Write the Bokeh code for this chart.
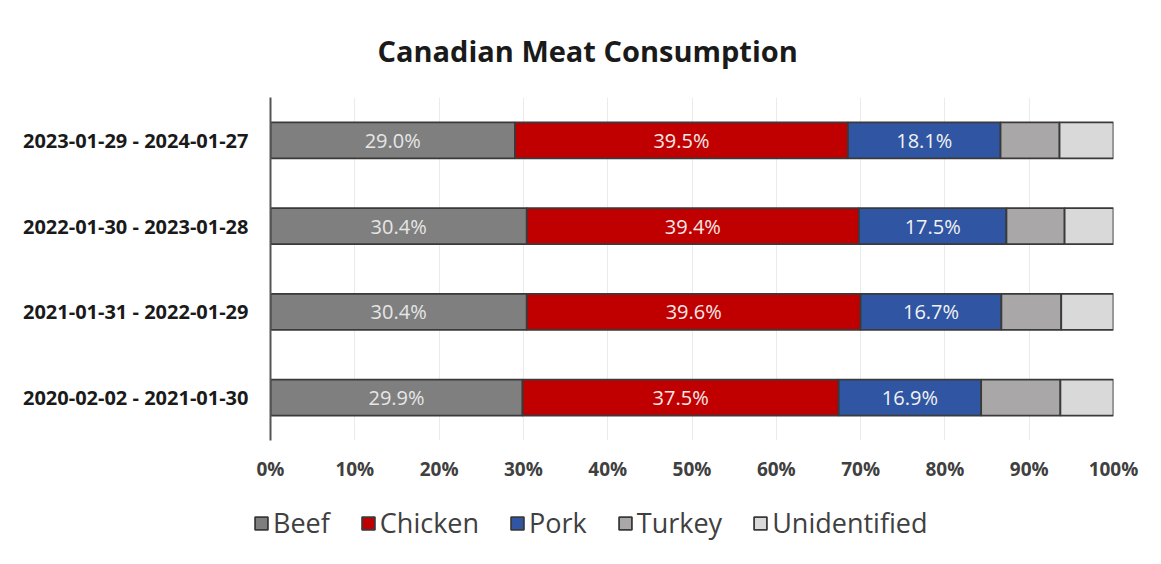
from bokeh.plotting import figure
from bokeh.layouts import column, row
from bokeh.models import ColumnDataSource, FactorRange, Range1d, Legend, LegendItem, NumeralTickFormatter, FixedTicker
from bokeh.core.properties import value
from bokeh.embed import file_html
from bokeh.resources import INLINE

periods = ["2020-02-02 - 2021-01-30", "2021-01-31 - 2022-01-29",
           "2022-01-30 - 2023-01-28", "2023-01-29 - 2024-01-27"]
meats = ["Beef", "Chicken", "Pork", "Turkey", "Unidentified"]
beef = [29.9, 30.4, 30.4, 29.0]
chicken = [37.5, 39.6, 39.4, 39.5]
pork = [16.9, 16.7, 17.5, 18.1]
turkey = [9.4, 7.1, 6.9, 7.0]
unidentified = [6.3, 6.2, 5.8, 6.4]
colors = ["#7F7F7F", "#C00000", "#2F55A3", "#A9A7A7", "#D9D9D9"]
label_colors = ["#E6E6E6", "#F6E8E8", "#F2F2F2", None, None]
edge = "#3A3A3A"

series = [beef, chicken, pork, turkey, unidentified]

W = 1145
H1, H2 = 490, 58
p = figure(width=W, height=H1, y_range=FactorRange(factors=periods, range_padding=0),
           x_range=Range1d(0, 1), output_backend="svg", toolbar_location=None,
           min_border_left=270, min_border_right=32, min_border_top=97, min_border_bottom=50)
p.outline_line_color = None
p.border_fill_color = "white"

p.title.text = "Canadian Meat Consumption"
p.title.align = "left"
p.title.offset = 107
p.title.standoff = 56
p.title.text_font = "Open Sans"
p.title.text_font_style = "bold"
p.title.text_font_size = "29px"
p.title.text_color = "#1A1A1A"

data = {"period": periods}
for m, s in zip(meats, series):
    data[m] = [v / 100.0 for v in s]
src = ColumnDataSource(data)

p.hbar_stack(meats, y="period", height=0.42, color=colors, source=src,
             line_color=edge, line_width=1.8)

for i, (m, s) in enumerate(zip(meats, series)):
    if label_colors[i] is None:
        continue
    xs = []
    for j in range(len(periods)):
        left = sum(series[k][j] for k in range(i))
        xs.append((left + s[j] / 2.0) / 100.0)
    lsrc = ColumnDataSource(dict(x=xs, y=periods, t=["%.1f%%" % v for v in s]))
    p.text(x="x", y="y", text="t", source=lsrc, text_align="center", text_baseline="middle",
           text_color=label_colors[i], text_font=value("Open Sans"), text_font_size="20px")

p.xaxis.ticker = FixedTicker(ticks=[i / 10 for i in range(11)])
p.xaxis.formatter = NumeralTickFormatter(format="0%")
p.xaxis.axis_line_color = None
p.xaxis.major_tick_line_color = None
p.xaxis.minor_tick_line_color = None
p.xaxis.major_tick_out = 0
p.xaxis.major_tick_in = 0
p.xaxis.major_label_standoff = 15
p.xaxis.major_label_text_font = "Open Sans"
p.xaxis.major_label_text_font_style = "bold"
p.xaxis.major_label_text_font_size = "19px"
p.xaxis.major_label_text_color = "#404040"

p.yaxis.axis_line_color = "#555555"
p.yaxis.axis_line_width = 2
p.yaxis.major_tick_line_color = None
p.yaxis.minor_tick_line_color = None
p.yaxis.major_tick_out = 0
p.yaxis.major_tick_in = 0
p.yaxis.major_label_standoff = 22
p.yaxis.major_label_text_font = "Open Sans"
p.yaxis.major_label_text_font_style = "bold"
p.yaxis.major_label_text_font_size = "20px"
p.yaxis.major_label_text_color = "#1A1A1A"

p.ygrid.grid_line_color = None
p.xgrid.grid_line_color = "#EBEBEB"
p.xgrid.grid_line_width = 1

# legend strip: same stacked data with zero-height bars outside the view, so only the legend shows
p2 = figure(width=W, height=H2, x_range=Range1d(-3, -2),
            y_range=FactorRange(factors=periods, range_padding=0),
            x_axis_type=None, y_axis_type=None, output_backend="svg", toolbar_location=None,
            min_border=0)
p2.outline_line_color = None
p2.xgrid.grid_line_color = None
p2.ygrid.grid_line_color = None
rs = p2.hbar_stack(meats, y="period", height=0, color=colors, source=src,
                   line_color=edge, line_width=1.8)
items = [LegendItem(label=m, renderers=[r]) for m, r in zip(meats, rs)]
legend = Legend(items=items, orientation="horizontal", location=(253, 7),
                label_text_font="Open Sans", label_text_font_size="27px",
                label_text_color="#404040", glyph_width=16, glyph_height=16,
                label_standoff=4, spacing=30, padding=0, margin=0,
                border_line_color=None, background_fill_alpha=0)
p2.add_layout(legend, "center")

layout = column(p, row(p2), spacing=0)
open("out.html", "w").write(file_html(layout, INLINE))
